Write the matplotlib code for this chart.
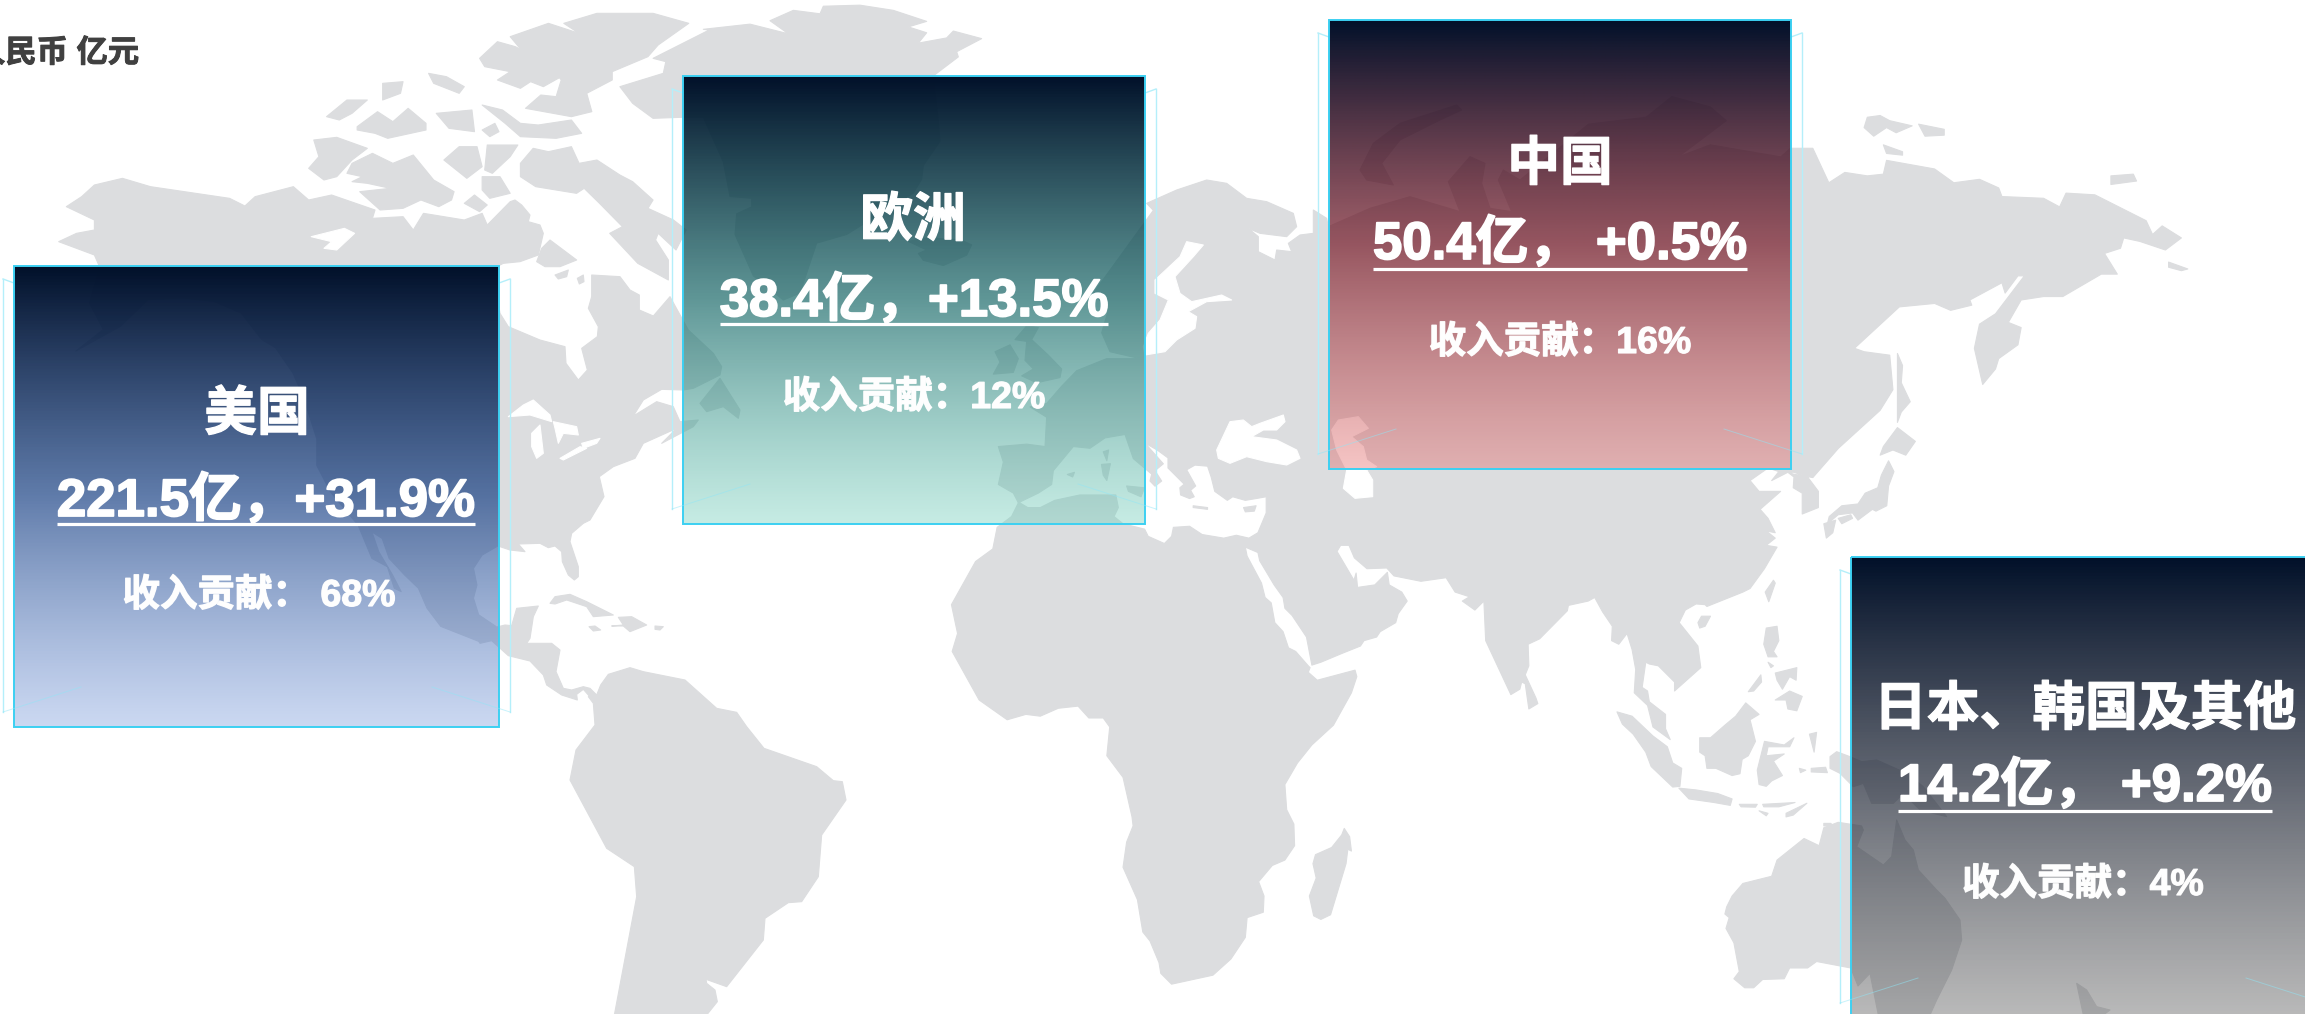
import numpy as np
import matplotlib
matplotlib.use("Agg")
import matplotlib.pyplot as plt
import matplotlib.patheffects as pe
from matplotlib.patches import Polygon, Rectangle

FONT = ["Liberation Sans", "Noto Sans CJK SC"]
plt.rcParams["font.family"] = FONT

# values
regions = ["美国", "欧洲", "中国", "日本、韩国及其他"]
revenue = ["221.5亿", "38.4亿", "50.4亿", "14.2亿"]
growth = ["+31.9%", "+13.5%", "+0.5%", "+9.2%"]
share = ["68%", "12%", "16%", "4%"]
value_gap = ["，", "，", "， ", "， "]
share_gap = ["： ", "：", "：", "："]
unit_text = "人民币 亿元"

# card layout, pixels of the picture
card_x = [14, 683, 1329, 1851]
card_y = [266, 76, 20, 557]
card_ws = [485, 462, 462, 462]
card_h = [461, 448, 449, 461]
title_pos = [(257, 430), (913, 236), (1560, 180), (2085, 725)]
value_pos = [(266, 516), (914, 316), (1560, 259), (2085, 801)]
rule_y = [524, 324, 269, 811]
sub_pos = [(259, 606), (914, 408), (1560, 353), (2083, 895)]

# gradient colours: top, middle and bottom rgb for each card
top_rgb = (1, 16, 41)
mid_rgb = [(27, 67, 134), (27, 106, 106), (120, 27, 41), (34, 41, 56)]
bottom_rgb = [(125, 158, 222), (112, 207, 187), (230, 107, 107), (82, 82, 82)]

LAND = "#DCDDDF"


def crop(ox, oy, sx, sy, pts):
    return [(ox + p[0] / sx, oy + p[1] / sy) for p in pts]


def z1(p): return crop(0, 240, 2.904, 3.015, p)
def z2(p): return crop(1820, 540, 3, 3, p)
def z3(p): return crop(0, 0, 1.96, 3, p)
def z4(p): return crop(1300, 0, 1.56, 2.9, p)
def z5(p): return crop(480, 500, 3, 3, p)
def z6(p): return crop(900, 450, 2.78, 2.78, p)
def z7(p): return crop(1340, 450, 2.78, 2.78, p)
def z8(p): return crop(1080, 0, 3, 3, p)
def z9(p): return crop(480, 100, 3, 3, p)
def z10(p): return crop(660, 0, 3, 2.9, p)


north_america = (
    z3([(130, 620), (160, 590), (185, 555), (240, 535), (295, 560), (450, 595), (480, 618), (500, 590),
        (575, 560), (605, 600), (650, 585), (735, 630), (730, 655), (790, 650), (810, 690), (830, 640),
        (910, 660), (945, 640), (955, 675), (1000, 605)])
    + z9([(105, 300), (125, 315), (150, 345), (145, 365), (180, 375), (190, 400), (175, 465), (120, 485),
          (70, 490), (50, 500), (55, 610), (60, 640), (85, 680), (180, 720), (255, 740), (258, 790),
          (295, 840), (322, 810), (305, 745), (352, 710), (355, 680), (325, 625), (335, 590), (335, 525),
          (420, 530), (450, 570), (478, 585), (478, 630), (520, 648), (570, 590), (625, 690), (700, 760),
          (725, 800), (720, 825), (640, 865), (610, 870), (545, 868), (490, 900), (460, 948), (530, 905),
          (580, 920), (600, 965), (655, 960), (640, 980), (545, 1030), (590, 985), (490, 1030), (465, 1075),
          (400, 1100), (358, 1130), (372, 1190), (330, 1260)])
    + z5([(310, 70), (275, 100), (270, 125), (295, 200), (295, 230), (283, 240), (265, 225), (247, 185),
          (245, 155), (225, 138), (205, 143), (180, 130), (115, 132), (135, 155), (90, 150), (60, 140)])
    + z1([(1450, 920), (1400, 950), (1375, 990), (1385, 1040), (1375, 1080), (1390, 1130), (1440, 1165)])
    + z5([(35, 385), (75, 375), (95, 377), (110, 325), (175, 318), (160, 350), (150, 415), (140, 430),
          (215, 430), (240, 450), (228, 515), (250, 565), (275, 570), (310, 560), (330, 565), (350, 585),
          (345, 605), (325, 585), (310, 568), (290, 583), (292, 600), (245, 585), (200, 555), (190, 525),
          (150, 483), (85, 467), (35, 422), (0, 430)])
    + z1([(1390, 1210), (1280, 1165), (1240, 1110), (1215, 1050), (1175, 1010), (1130, 960), (1110, 900),
          (1080, 880), (1100, 940), (1140, 1010), (1165, 1060), (1145, 1050), (1125, 985), (1080, 960),
          (1040, 860), (960, 760), (920, 680), (920, 600), (880, 470), (850, 400), (800, 325), (760, 300),
          (700, 220), (620, 185), (530, 175), (430, 180), (350, 260), (220, 335), (300, 270), (260, 190)])
    + z3([(195, 800), (185, 765), (115, 725), (150, 700), (185, 690), (185, 660)])
)

south_america = z5([(350, 585), (362, 555), (385, 523), (450, 503), (490, 515), (615, 540), (710, 625), (770, 637),
                    (800, 680), (852, 745), (1010, 800), (1060, 842), (1087, 845), (1098, 900), (1025, 1005),
                    (1015, 1130), (965, 1205), (925, 1208), (855, 1255), (850, 1320), (740, 1460), (678, 1438),
                    (680, 1450), (705, 1470), (712, 1505), (680, 1545), (403, 1545), (470, 1190), (463, 1100),
                    (380, 1045), (270, 840), (288, 750), (345, 675), (340, 610), (325, 590)])

greenland = (
    z3([(1280, 175), (1390, 90)])
    + z10([(130, 85), (270, 70), (385, 98), (330, 60), (400, 30), (480, 40), (490, 18), (600, 15), (700, 30),
           (800, 62), (745, 78), (800, 95), (775, 125), (860, 110), (880, 90), (965, 112), (890, 150),
           (895, 165), (820, 220), (835, 350), (840, 410), (790, 480), (785, 520), (760, 560), (660, 620),
           (560, 680), (470, 705), (420, 850), (370, 870), (280, 800), (225, 680), (230, 620), (275, 600),
           (275, 575), (210, 570), (190, 470), (130, 340), (70, 340)])
    + z3([(1280, 355), (1240, 310), (1215, 260), (1300, 220), (1305, 185)])
)

eurasia_africa = (
    z8([(200, 610), (290, 570), (380, 540), (440, 550), (500, 595), (560, 605), (640, 640), (650, 680), (620, 710),
        (540, 700), (505, 685), (535, 710), (535, 755), (585, 780), (590, 750), (635, 755), (625, 730), (660, 705),
        (700, 700), (700, 630), (740, 655), (745, 680), (870, 625), (990, 590), (1140, 635), (1105, 545), (1170, 470),
        (1215, 490), (1205, 550), (1230, 625), (1295, 635), (1255, 540), (1270, 510), (1320, 540)])
    + z4([(450, 360), (540, 340), (580, 280), (640, 310), (665, 350), (590, 455), (640, 420), (750, 455), (765, 430),
          (800, 430), (810, 470), (825, 530), (850, 500), (885, 510), (910, 505), (915, 465), (990, 490), (1020, 530),
          (1060, 520), (1090, 545), (1095, 570), (1160, 575), (1185, 600), (1195, 560), (1240, 565), (1320, 640),
          (1330, 680), (1345, 655), (1375, 690), (1350, 725), (1310, 700), (1285, 690), (1280, 720), (1255, 735),
          (1275, 795), (1250, 795), (1190, 860), (1160, 860), (1125, 870), (1105, 935), (1125, 950), (1120, 1000),
          (1090, 1040), (1085, 1070), (1065, 1115), (1052, 1010), (1060, 940), (1085, 910), (1130, 800), (1120, 800),
          (1100, 850), (1095, 820), (1045, 870), (1048, 885), (1015, 900), (990, 880), (935, 890), (865, 1010),
          (880, 1020), (920, 1030), (925, 1130), (905, 1190), (840, 1300), (800, 1385), (770, 1375)])
    + z7([(1245, 62), (1262, 75), (1260, 105), (1285, 120), (1285, 178), (1330, 160), (1330, 115), (1300, 75),
          (1262, 62), (1245, 62), (1200, 85), (1220, 60), (1190, 50), (1140, 85), (1165, 115), (1225, 115), (1168, 165),
          (1190, 190), (1210, 230), (1185, 225), (1210, 245), (1185, 265), (1215, 270), (1180, 330), (1140, 385),
          (1120, 395), (1020, 435), (1015, 430), (990, 428), (960, 445), (943, 480), (995, 545), (1003, 605), (930, 670),
          (930, 645), (885, 600), (860, 595), (850, 590), (840, 660), (855, 670), (860, 700), (905, 735), (905, 775),
          (918, 805), (870, 770), (855, 710), (818, 675), (822, 610), (812, 555), (798, 510), (775, 540), (755, 530),
          (757, 490), (730, 450), (708, 410), (690, 420), (635, 432), (632, 447), (555, 525), (523, 540), (525, 600),
          (515, 625), (545, 690), (550, 705), (525, 720), (515, 650), (505, 645), (500, 665), (475, 680), (405, 530),
          (400, 420), (375, 445), (340, 420), (360, 408), (320, 395), (295, 355), (225, 365), (150, 350), (130, 328),
          (75, 330), (40, 300), (25, 265)])
    + z6([(1225, 265), (1215, 282), (1262, 362), (1268, 342), (1272, 382), (1320, 375), (1355, 340), (1360, 375),
          (1395, 395), (1410, 420), (1385, 455), (1378, 480), (1335, 505), (1325, 520), (1290, 530), (1280, 545),
          (1230, 565), (1170, 590), (1145, 598), (1130, 520), (1090, 460), (1070, 440), (1065, 410), (1040, 375),
          (1000, 308), (995, 285), (960, 270), (965, 295), (1005, 370), (1015, 410), (1032, 425), (1042, 480),
          (1065, 505), (1080, 550), (1100, 560), (1135, 600), (1140, 605), (1135, 618), (1160, 640), (1265, 612),
          (1270, 630), (1255, 675), (1205, 765), (1145, 820), (1105, 870), (1070, 930), (1075, 1000), (1095, 1040),
          (1097, 1100), (1070, 1140), (1035, 1155), (997, 1200), (1012, 1240), (1010, 1285), (965, 1300), (960, 1355),
          (920, 1415), (870, 1460), (755, 1485), (725, 1455), (720, 1425), (695, 1365), (675, 1340), (660, 1250),
          (620, 1160), (630, 1090), (648, 1045), (645, 1020), (620, 910), (575, 850), (583, 770), (565, 745), (525, 745),
          (495, 712), (440, 718), (390, 740), (350, 735), (298, 750), (220, 695), (145, 560), (160, 510), (143, 430),
          (210, 310), (258, 275), (270, 215), (310, 185), (330, 145), (355, 160), (390, 160), (430, 140), (500, 125),
          (600, 125), (607, 160), (595, 185), (620, 205), (680, 220), (690, 240), (735, 260), (755, 240), (760, 215),
          (805, 212), (840, 235), (900, 245), (935, 237), (970, 245), (995, 230), (1018, 175), (1018, 130), (990, 135),
          (960, 140), (925, 130), (910, 140), (875, 115), (865, 75), (855, 45), (820, 42), (797, 55), (822, 100),
          (808, 112), (818, 130), (805, 135), (780, 125), (778, 105), (790, 95), (745, 50), (745, 22), (715, 0)])
    + z10([(1455, 1285), (1510, 1345), (1485, 1365), (1505, 1395), (1485, 1410), (1470, 1395), (1475, 1375), (1420, 1330),
           (1395, 1260), (1335, 1270), (1290, 1300), (1240, 1295), (1180, 1365), (1175, 1405), (1135, 1430), (1075, 1458),
           (1060, 1430), (1015, 1405), (1030, 1340), (1015, 1295), (1100, 1288), (1155, 1295), (1160, 1210), (1110, 1180),
           (1160, 1170), (1205, 1120), (1250, 1075), (1340, 1040), (1440, 1040), (1350, 1020), (1325, 965), (1345, 900),
           (1300, 850), (1345, 790), (1420, 690), (1480, 610)])
)

australia = (
    z7([(1075, 1270), (1090, 1240), (1120, 1205), (1200, 1185), (1215, 1140), (1290, 1080), (1332, 1100), (1345, 1050),
        (1385, 1035), (1450, 1045)])
    + z2([(130, 870), (110, 920), (190, 975), (215, 950), (230, 840), (255, 900), (280, 930), (295, 990), (350, 1050),
          (375, 1075), (420, 1140), (425, 1200), (395, 1290), (350, 1380), (330, 1425), (175, 1425), (150, 1300)])
    + z7([(1440, 1490), (1420, 1440), (1325, 1422), (1300, 1440), (1250, 1440), (1235, 1470), (1175, 1472), (1150, 1495),
          (1125, 1495), (1095, 1470), (1110, 1450), (1095, 1370), (1073, 1330), (1082, 1300), (1070, 1290)])
)

islands = [
    # arctic canada
    z3([(615, 420), (660, 412), (720, 445), (690, 480), (660, 530), (635, 540), (605, 505), (625, 470)]),
    z3([(690, 490), (730, 460), (770, 490), (810, 465), (850, 540), (890, 575), (885, 600), (860, 620), (825, 600),
        (790, 625), (745, 630), (705, 575), (765, 565), (720, 550), (690, 545), (710, 530), (680, 520)]),
    z3([(870, 480), (900, 440), (935, 440), (945, 500), (915, 535)]),
    z3([(955, 435), (1015, 435), (1000, 470), (965, 520), (950, 510)]),
    z3([(945, 530), (980, 530), (1000, 580), (960, 595), (945, 570)]),
    z3([(910, 610), (930, 585), (955, 615), (940, 635)]),
    z3([(1020, 490), (1045, 445), (1075, 455), (1120, 440), (1135, 490), (1170, 480), (1215, 525), (1240, 545), (1280, 600),
        (1270, 625), (1320, 660), (1345, 690), (1325, 750), (1290, 700), (1285, 720), (1310, 780), (1310, 840), (1250, 790),
        (1195, 700), (1220, 680), (1175, 610), (1145, 565), (1130, 580), (1050, 560), (1020, 530)]),
    z9([(185, 445), (210, 420), (290, 480), (240, 500), (195, 500), (170, 485)]),
    z9([(225, 525), (265, 510), (260, 530), (235, 537)]),
    z9([(292, 535), (310, 525), (312, 545), (298, 552)]),
    z3([(640, 350), (680, 300), (720, 300), (690, 340), (665, 360)]),
    z3([(700, 380), (740, 335), (770, 365), (800, 325), (835, 370), (835, 390), (760, 415), (735, 400), (700, 390)]),
    z3([(750, 250), (790, 245), (785, 280), (750, 300)]),
    z3([(840, 220), (875, 230), (910, 260), (900, 280), (850, 250)]),
    z3([(855, 340), (925, 330), (930, 395), (880, 385)]),
    z3([(945, 315), (985, 330), (1020, 370), (1055, 375), (1120, 360), (1140, 400), (1090, 415), (1020, 410), (990, 370)]),
    z3([(945, 390), (970, 370), (978, 395), (960, 410)]),
    z3([(940, 175), (975, 125), (1010, 140), (1075, 190), (1100, 230), (1065, 260), (1040, 245), (1020, 265), (975, 240),
        (1000, 215), (950, 200)]),
    z3([(1105, 70), (1170, 40), (1280, 40), (1350, 70), (1290, 135), (1270, 170), (1200, 215), (1200, 240), (1150, 280),
        (1160, 335), (1120, 350), (1030, 325), (1060, 285), (1090, 290), (1100, 240), (1075, 190), (1030, 165), (1000, 110),
        (1075, 70), (1135, 100)]),
    z9([(660, 910), (720, 835), (780, 930), (775, 955), (730, 920), (680, 935)]),
    # caribbean
    z5([(210, 310), (225, 290), (270, 283), (320, 305), (400, 345), (340, 350), (320, 320), (260, 300), (225, 312)]),
    z5([(415, 352), (455, 350), (500, 375), (450, 395), (430, 378), (395, 378), (430, 375)]),
    z5([(327, 380), (345, 378), (362, 390), (340, 393)]),
    z5([(525, 378), (550, 380), (540, 390), (525, 388)]),
    # europe
    z10([(745, 700), (800, 690), (900, 695), (935, 710), (920, 740), (850, 770), (790, 755), (775, 735), (800, 725)]),
    z10([(1100, 945), (1135, 950), (1115, 985), (1165, 1030), (1205, 1070), (1200, 1095), (1130, 1110), (1085, 1090),
         (1120, 1070), (1095, 1045), (1100, 990), (1065, 985)]),
    z10([(1005, 1020), (1050, 1000), (1075, 1040), (1060, 1080), (1000, 1085), (1020, 1050)]),
    z6([(630, 100), (680, 105), (670, 130), (635, 115)]),
    z6([(560, 40), (585, 38), (575, 85), (565, 70)]),
    z6([(565, 5), (580, 0), (575, 30)]),
    z6([(465, 68), (485, 62), (480, 75)]),
    z6([(815, 155), (855, 160), (855, 165), (815, 160)]),
    z6([(955, 160), (990, 155), (985, 170), (960, 172)]),
    z8([(840, 510), (880, 430), (960, 370), (1130, 315), (1145, 330), (1080, 360), (960, 420), (905, 490), (940, 555), (860, 540)]),
    # russia north and east
    z4([(885, 340), (905, 335), (920, 350), (955, 365), (930, 385), (915, 370), (895, 395), (880, 370)]),
    z4([(965, 360), (1005, 375), (1005, 392), (975, 395)]),
    z4([(910, 420), (940, 440), (940, 450), (915, 445)]),
    z4([(1265, 510), (1300, 505), (1305, 525), (1265, 535)]),
    z4([(1355, 760), (1385, 780), (1375, 785), (1355, 775)]),
    z4([(932, 1025), (940, 1060), (938, 1110), (952, 1165), (938, 1195), (932, 1225)]),
    z4([(932, 1240), (960, 1280), (945, 1320), (925, 1305), (905, 1320), (910, 1295)]),
    # japan
    z7([(1345, 205), (1378, 195), (1370, 230), (1352, 245)]),
    z7([(1360, 185), (1395, 155), (1440, 150), (1460, 120), (1495, 105), (1505, 70), (1525, 30), (1540, 60), (1525, 100),
        (1520, 155), (1490, 170), (1480, 165), (1440, 195), (1425, 175), (1385, 180), (1355, 205)]),
    z7([(1385, 190), (1420, 180), (1425, 190), (1395, 205)]),
    # south east asia
    z7([(1182, 395), (1205, 362), (1210, 370), (1192, 422)]),
    z7([(995, 480), (1005, 462), (1030, 462), (1015, 490), (1000, 495)]),
    z7([(1185, 495), (1215, 490), (1220, 530), (1205, 560), (1215, 575), (1190, 575), (1178, 540)]),
    z7([(1190, 590), (1205, 600), (1198, 605)]),
    z7([(1210, 620), (1270, 605), (1268, 640), (1250, 630), (1230, 665), (1215, 640)]),
    z7([(1210, 695), (1250, 670), (1285, 685), (1270, 725), (1245, 720), (1240, 695)]),
    z7([(1135, 672), (1170, 625), (1172, 645), (1150, 670)]),
    z7([(1000, 800), (1030, 800), (1070, 765), (1100, 740), (1128, 703), (1165, 735), (1140, 750), (1150, 790), (1155, 810),
        (1135, 850), (1118, 860), (1112, 900), (1090, 905), (1045, 885), (1020, 885), (1015, 850), (1000, 840)]),
    z7([(1160, 890), (1180, 810), (1235, 820), (1262, 800), (1250, 825), (1190, 825), (1185, 850), (1235, 845), (1205, 865),
        (1230, 905), (1200, 920), (1185, 935), (1165, 930)]),
    z7([(770, 728), (812, 740), (870, 795), (910, 825), (925, 870), (950, 885), (945, 935), (925, 937), (865, 880), (850, 840),
        (815, 790), (785, 762)]),
    z7([(942, 940), (990, 945), (1050, 955), (1090, 970), (1085, 988), (1040, 980), (970, 970)]),
    z7([(1110, 985), (1160, 985), (1155, 993), (1115, 992)]),
    z7([(1175, 985), (1265, 980), (1220, 992), (1178, 992)]),
    z7([(1240, 1010), (1298, 982), (1260, 1015), (1240, 1020)]),
    z7([(1165, 1003), (1190, 1010), (1185, 1017)]),
    z7([(1305, 790), (1325, 785), (1318, 840)]),
    z7([(1277, 885), (1295, 890), (1280, 897)]),
    z7([(1310, 885), (1350, 882), (1355, 897), (1310, 895)]),
    z7([(1345, 1038), (1365, 1038), (1368, 1045), (1345, 1045)]),
    z2([(30, 650), (50, 635), (90, 650), (125, 665), (170, 660), (260, 700), (310, 740), (380, 830), (300, 810), (250, 760),
        (220, 790), (155, 790), (130, 730), (100, 740), (60, 700), (30, 685)]),
    z2([(770, 1330), (800, 1350), (830, 1400), (870, 1410), (850, 1425), (790, 1425)]),
    # madagascar
    z6([(1235, 1052), (1250, 1075), (1255, 1115), (1245, 1110), (1240, 1150), (1197, 1292), (1170, 1305), (1150, 1295),
        (1138, 1240), (1157, 1190), (1148, 1150), (1155, 1125), (1200, 1105), (1228, 1070)]),
]

# inland water, painted white over the land
water = [
    z8([(370, 735), (320, 725), (300, 770), (225, 840), (225, 880), (265, 900), (240, 960), (205, 1000), (190, 1040), (195, 1065),
        (255, 1055), (290, 1020), (345, 985), (350, 950), (325, 935), (380, 905), (455, 900), (425, 885), (335, 905), (300, 880),
        (285, 830), (340, 770)]),
    z8([(410, 1350), (450, 1265), (490, 1260), (515, 1280), (540, 1270), (610, 1245), (615, 1265), (590, 1290), (550, 1290),
        (515, 1310), (590, 1320), (650, 1350), (660, 1375), (620, 1395), (560, 1385), (500, 1370), (450, 1390), (415, 1375)]),
    z8([(755, 1290), (775, 1260), (835, 1250), (865, 1285), (815, 1310), (850, 1340), (860, 1380), (890, 1400), (860, 1410),
        (878, 1440), (878, 1490), (825, 1495), (790, 1465), (800, 1410), (770, 1350)]),
    z9([(85, 950), (130, 915), (160, 900), (210, 945), (215, 965), (150, 945)]),
    z9([(155, 1000), (180, 975), (190, 1060), (170, 1075), (155, 1040)]),
    z9([(220, 965), (290, 980), (295, 1005), (250, 1000), (235, 1030), (225, 985)]),
    z9([(240, 1075), (300, 1040), (320, 1045), (250, 1080)]),
    z9([(305, 1030), (360, 1015), (350, 1030), (310, 1045)]),
    z3([(610, 710), (675, 685), (695, 700), (660, 750), (635, 745), (650, 725)]),
]

fig = plt.figure(figsize=(23.05, 10.14), dpi=100)
ax = fig.add_axes([0, 0, 1, 1])

for land in [north_america, south_america, greenland, eurasia_africa, australia] + islands:
    ax.add_patch(Polygon(land, closed=True, fc=LAND, ec=LAND, lw=0.8, joinstyle="round", zorder=1))
for lake in water:
    ax.add_patch(Polygon(lake, closed=True, fc="white", ec="white", lw=0.8, joinstyle="round", zorder=1.5))

renderer = fig.canvas.get_renderer()
heavy = [pe.withStroke(linewidth=0.9, foreground="white")]
heavier = [pe.withStroke(linewidth=1.3, foreground="white")]

for i in range(4):
    x0, y0, w, h = card_x[i], card_y[i], card_ws[i], card_h[i]

    # thin side bars sitting behind the card
    fx0, fx1, fy0, fy1 = x0 - 11, x0 + w + 11, y0 + 13, y0 + h - 15
    for fx, cx in [(fx0, x0), (fx1, x0 + w)]:
        ax.plot([fx, fx], [fy0, fy1], color="#B4EFFA", lw=1, zorder=2)
        ax.plot([fx, cx], [fy0, fy0 + 4], color="#B4EFFA", lw=1, zorder=2)

    # vertical gradient, fading to transparent so the map shows through
    t = np.linspace(0, 1, 256)
    rgba = np.zeros((256, 1, 4))
    for c in range(3):
        rgba[:, 0, c] = np.interp(t, [0, 0.5, 1], [top_rgb[c], mid_rgb[i][c], bottom_rgb[i][c]]) / 255
    rgba[:, 0, 3] = 1 - 0.6 * t
    ax.imshow(rgba, extent=[x0, x0 + w, y0 + h, y0], aspect="auto", zorder=3, interpolation="bilinear")
    ax.add_patch(Rectangle((x0, y0), w, h, fc="none", ec="#3CD0F2", lw=1.4, zorder=4))

    # corner lines going into the card
    ax.plot([fx0, fx0 + 78], [fy1, fy1 - 25], color="#8FE6F7", lw=0.7, alpha=0.5, zorder=4)
    ax.plot([fx1, fx1 - 78], [fy1, fy1 - 25], color="#8FE6F7", lw=0.7, alpha=0.5, zorder=4)

    ax.text(title_pos[i][0], title_pos[i][1], regions[i], color="white", fontsize=38, fontweight="bold",
            ha="center", va="baseline", path_effects=heavy, zorder=5)
    value = ax.text(value_pos[i][0], value_pos[i][1], revenue[i] + value_gap[i] + growth[i], color="white",
                    fontsize=38, fontweight="bold", ha="center", va="baseline", path_effects=heavier, zorder=5)
    ax.text(sub_pos[i][0], sub_pos[i][1], "收入贡献" + share_gap[i] + share[i], color="white", fontsize=27,
            fontweight="bold", ha="center", va="baseline", alpha=0.92, path_effects=heavy, zorder=5)

    # underline follows the width of the value text
    ax.set_xlim(0, 2305)
    ax.set_ylim(1014, 0)
    box = value.get_window_extent(renderer)
    ax.plot([box.x0, box.x1], [rule_y[i], rule_y[i]], color="white", lw=2.3, solid_capstyle="butt", zorder=5)

ax.text(139, 62, unit_text, color="#404040", fontsize=22.5, fontweight="bold", ha="right", va="baseline",
        path_effects=[pe.withStroke(linewidth=0.7, foreground="#404040")], zorder=5)

ax.set_xlim(0, 2305)
ax.set_ylim(1014, 0)
ax.axis("off")

fig.savefig("out.png", dpi=100, facecolor="white")
